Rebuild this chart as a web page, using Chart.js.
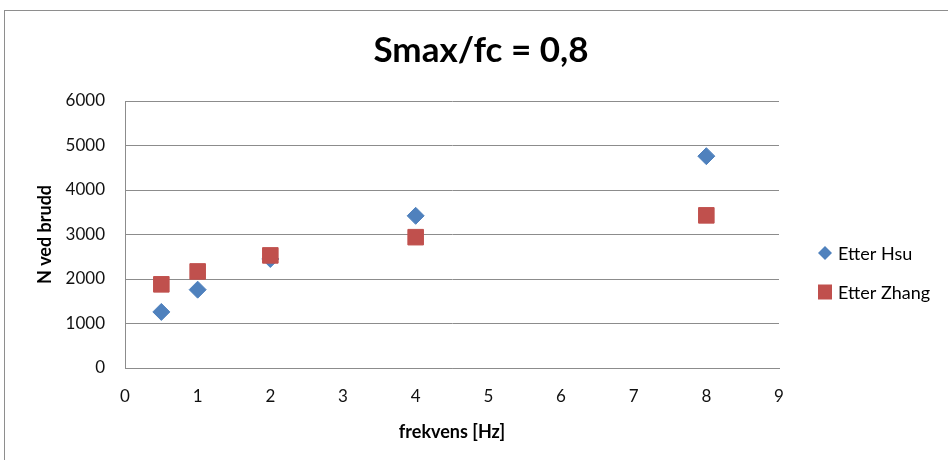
<!DOCTYPE html>
<html>
<head>
<meta charset="utf-8">
<title>Smax/fc = 0,8</title>
<script src="https://cdn.jsdelivr.net/npm/chart.js@4"></script>
<style>
  html, body { margin: 0; padding: 0; background: #fff; }
  #wrap { position: relative; width: 948px; height: 460px; overflow: hidden; }
  #frame { position: absolute; left: 4px; top: 10px; width: 1000px; height: 500px;
           border: 1px solid #8e8e8e; box-sizing: border-box; }
  #chart { position: absolute; left: 0; top: 0; }
</style>
</head>
<body>
<div id="wrap">
  <div id="frame"></div>
  <canvas id="chart" width="948" height="460"></canvas>
</div>
<script>
// frekvens [Hz] og antall sykler ved brudd
const frekvens = [0.5, 1, 2, 4, 8];
const nHsu = [1260, 1760, 2450, 3420, 4760];
const nZhang = [1880, 2170, 2530, 2940, 3430];
const serieNavn = ['Etter Hsu', 'Etter Zhang'];
const tittel = 'Smax/fc = 0,8';
const xTittel = 'frekvens [Hz]';
const yTittel = 'N ved brudd';

const FONT = 'Lato, "Open Sans", sans-serif';
const GRID = '#8c8c8c';

const toPoints = (xs, ys) => xs.map((x, i) => ({ x: x, y: ys[i] }));

// tittelen sentreres over hele figuren, ikke bare plottområdet
const wideTitle = {
    id: 'wideTitle',
    afterLayout(chart) {
        const t = chart.titleBlock;
        if (!t) return;
        t.left = 0;
        t.right = 962;
    }
};

// enkel legende til høyre, tegnet fra datasettene
const sideLegend = {
    id: 'sideLegend',
    afterDraw(chart) {
        const ctx = chart.ctx;
        ctx.save();
        chart.data.datasets.forEach((ds, i) => {
            const cx = 825, cy = 253 + i * 39;
            ctx.fillStyle = ds.backgroundColor;
            ctx.beginPath();
            if (ds.pointStyle === 'rectRot') {
                ctx.moveTo(cx, cy - 7);
                ctx.lineTo(cx + 7, cy);
                ctx.lineTo(cx, cy + 7);
                ctx.lineTo(cx - 7, cy);
                ctx.closePath();
            } else {
                ctx.rect(cx - 7, cy - 7.5, 14, 15);
            }
            ctx.fill();
            ctx.fillStyle = '#000';
            ctx.font = '18px ' + FONT;
            ctx.textBaseline = 'middle';
            ctx.textAlign = 'left';
            ctx.fillText(ds.label, 838, cy + 1);
        });
        ctx.restore();
    }
};

const ctx = document.getElementById('chart').getContext('2d');
new Chart(ctx, {
    type: 'scatter',
    data: {
        datasets: [
            {
                label: serieNavn[0],
                data: toPoints(frekvens, nHsu),
                pointStyle: 'rectRot',
                pointRadius: 8.5,
                backgroundColor: '#4F81BD',
                borderColor: '#4F81BD',
                borderWidth: 1,
                order: 2
            },
            {
                label: serieNavn[1],
                data: toPoints(frekvens, nZhang),
                pointStyle: 'rect',
                pointRadius: 11,
                backgroundColor: '#C0504D',
                borderColor: '#C0504D',
                borderWidth: 1,
                order: 1
            }
        ]
    },
    options: {
        responsive: false,
        animation: false,
        layout: { padding: { left: 28, right: 169, top: 0, bottom: 0 } },
        plugins: {
            legend: { display: false },
            tooltip: { enabled: false },
            title: {
                display: true,
                text: tittel,
                color: '#000',
                font: { family: FONT, size: 35, weight: 'bold' },
                padding: { top: 30, bottom: 29 }
            }
        },
        scales: {
            x: {
                type: 'linear',
                min: 0,
                max: 9,
                ticks: {
                    stepSize: 1, padding: 18, color: '#111',
                    font: { family: FONT, size: 17 },
                    callback: v => String(v)
                },
                grid: { display: false, drawTicks: false },
                border: { display: true, color: GRID, width: 1 },
                title: {
                    display: true,
                    text: xTittel,
                    color: '#000',
                    font: { family: FONT, size: 18, weight: 'bold' },
                    padding: { top: 4, bottom: 17 }
                },
                afterFit: s => { s.height = 92; }
            },
            y: {
                min: 0,
                max: 6000,
                ticks: {
                    stepSize: 1000, padding: 20, color: '#111',
                    font: { family: FONT, size: 17 },
                    callback: v => String(v)
                },
                grid: { color: GRID, lineWidth: 1, drawTicks: false },
                border: { display: true, color: GRID, width: 1 },
                title: {
                    display: true,
                    text: yTittel,
                    color: '#000',
                    font: { family: FONT, size: 18, weight: 'bold' },
                    padding: { top: 6, bottom: 4 }
                },
                afterFit: s => { s.width = 97; }
            }
        }
    },
    plugins: [wideTitle, sideLegend]
});
</script>
</body>
</html>
